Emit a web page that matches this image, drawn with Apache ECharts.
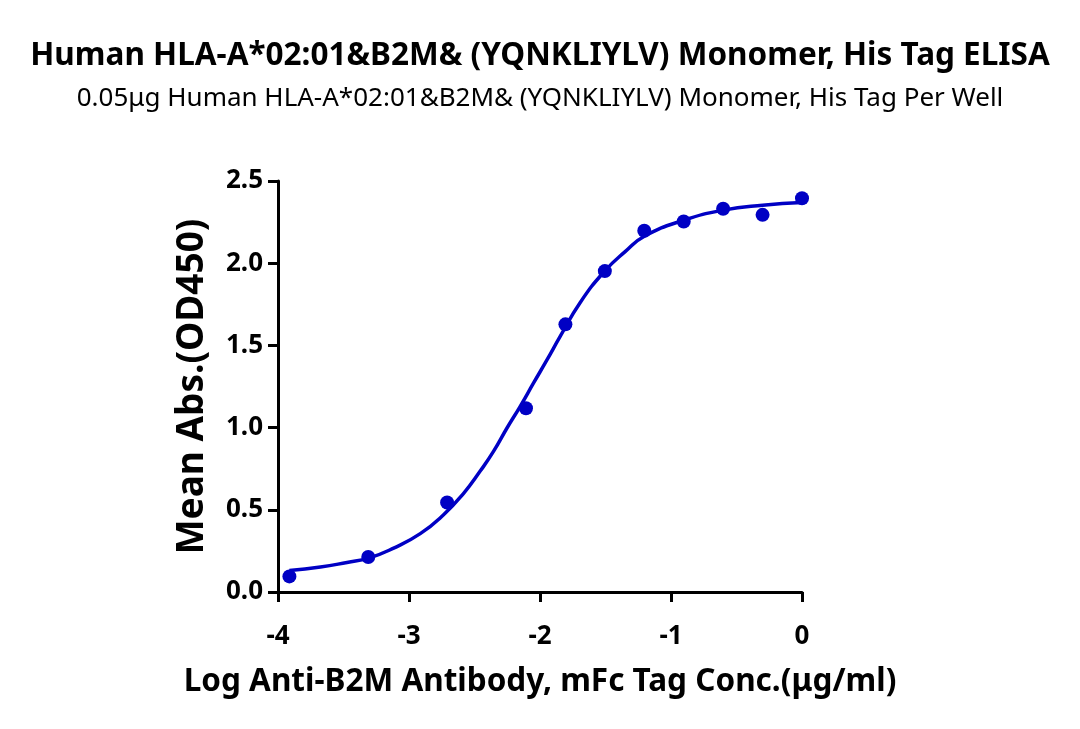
<!DOCTYPE html>
<html>
<head>
<meta charset="utf-8">
<script src="https://cdn.jsdelivr.net/npm/echarts@6/dist/echarts.min.js"></script>
<style>
html,body{margin:0;padding:0;background:#fff;}
#main{width:1080px;height:729px;}
</style>
</head>
<body>
<div id="main"></div>
<script>
// measured points: log conc vs OD450
var logConc = [0, -0.301, -0.602, -0.903, -1.204, -1.505, -1.806, -2.107, -2.709, -3.311, -3.913];
var meanAbs = [2.395, 2.294, 2.331, 2.254, 2.197, 1.952, 1.628, 1.118, 0.544, 0.213, 0.095];

// fitted curve
var fitX = [-3.913, -3.676, -3.473, -3.308, -3.117, -2.914, -2.736, -2.583, -2.455, -2.355, -2.253, -2.152, -2.05, -1.948, -1.847, -1.694, -1.506, -1.35, -1.2, -0.9, -0.6, -0.3, 0];
var fitY = [0.131, 0.152, 0.18, 0.206, 0.267, 0.355, 0.47, 0.6, 0.737, 0.855, 0.996, 1.128, 1.27, 1.41, 1.553, 1.76, 1.952, 2.07, 2.165, 2.262, 2.323, 2.353, 2.369];

var titleText = 'Human HLA-A*02:01&B2M& (YQNKLIYLV) Monomer, His Tag ELISA';
var subText = '0.05\u03bcg Human HLA-A*02:01&B2M& (YQNKLIYLV) Monomer, His Tag Per Well';

var blue = '#0000c4';
var font = '"Noto Sans", sans-serif';

var myChart = echarts.init(document.getElementById('main'));
var option = {
	backgroundColor: '#fff',
	animation: false,
	title: [{
		text: titleText,
		left: 'center',
		top: 35,
		textStyle: {fontFamily: font, fontWeight: 'bold', fontSize: 31.5, color: '#000'}
	}, {
		text: subText,
		left: 'center',
		top: 81,
		textStyle: {fontFamily: font, fontWeight: 'normal', fontSize: 26, color: '#000'}
	}],
	grid: {left: 278, right: 278, top: 181, bottom: 137},
	xAxis: {
		type: 'value',
		min: -4, max: 0, interval: 1,
		name: 'Log Anti-B2M Antibody, mFc Tag Conc.(\u03bcg/ml)',
		nameLocation: 'middle',
		nameGap: 74,
		nameTextStyle: {fontFamily: font, fontWeight: 'bold', fontSize: 31.5, color: '#000'},
		axisLine: {onZero: false, lineStyle: {color: '#000', width: 3}},
		axisTick: {show: true, length: 10, lineStyle: {color: '#000', width: 3}},
		axisLabel: {margin: 32, fontFamily: font, fontWeight: 'bold', fontSize: 26, color: '#000'},
		splitLine: {show: false}
	},
	yAxis: {
		type: 'value',
		min: 0, max: 2.5, interval: 0.5,
		name: 'Mean Abs.(OD450)',
		nameLocation: 'middle',
		nameGap: 67,
		nameTextStyle: {fontFamily: font, fontWeight: 'bold', fontSize: 37, color: '#000'},
		axisLine: {show: true, onZero: false, lineStyle: {color: '#000', width: 3}},
		axisTick: {show: true, length: 10, lineStyle: {color: '#000', width: 3}},
		axisLabel: {
			margin: 15, fontFamily: font, fontWeight: 'bold', fontSize: 26, color: '#000',
			formatter: function (v) { return v.toFixed(1); }
		},
		splitLine: {show: false}
	},
	series: [{
		type: 'line',
		data: fitX.map(function (x, i) { return [x, fitY[i]]; }),
		smooth: 0.5,
		showSymbol: false,
		lineStyle: {color: blue, width: 3.5},
		z: 2
	}, {
		type: 'scatter',
		data: logConc.map(function (x, i) { return [x, meanAbs[i]]; }),
		symbolSize: 14,
		itemStyle: {color: blue, opacity: 1},
		z: 3
	}]
};
myChart.setOption(option);
</script>
</body>
</html>
